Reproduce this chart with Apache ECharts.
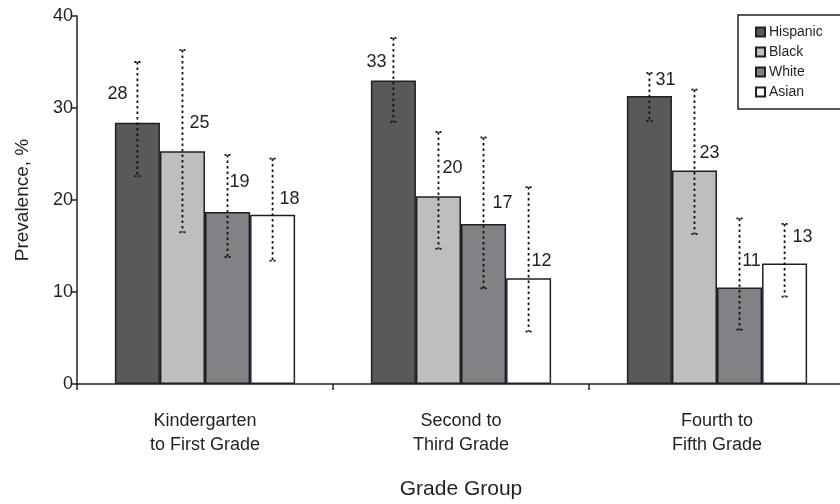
<!DOCTYPE html>
<html>
<head>
<meta charset="utf-8">
<script src="https://cdn.jsdelivr.net/npm/echarts@6/dist/echarts.min.js"></script>
<style>
html,body{margin:0;padding:0;background:#fff;}
#chart{width:840px;height:504px;}
</style>
</head>
<body>
<div id="chart"></div>
<script>
// ---- data ----
const categories = ['Kindergarten\nto First Grade', 'Second to\nThird Grade', 'Fourth to\nFifth Grade'];
const seriesNames = ['Hispanic', 'Black', 'White', 'Asian'];
const hispanic = [28.4, 33.0, 31.3];
const black = [25.3, 20.4, 23.2];
const white = [18.7, 17.4, 10.5];
const asian = [18.4, 11.5, 13.1];
const hispanicLow = [22.6, 28.5, 28.6];
const hispanicHigh = [35.0, 37.6, 33.8];
const blackLow = [16.5, 14.7, 16.3];
const blackHigh = [36.3, 27.4, 32.0];
const whiteLow = [13.8, 10.4, 5.9];
const whiteHigh = [24.9, 26.8, 18.0];
const asianLow = [13.4, 5.7, 9.5];
const asianHigh = [24.5, 21.4, 17.4];
const yTicks = [0, 10, 20, 30, 40];

// ---- layout / style ----
const FONT = '"Liberation Sans", Arial, sans-serif';
const INK = '#231f20';
const colors = ['#58595b', '#bcbec0', '#808285', '#ffffff'];
const values = [hispanic, black, white, asian];
const lows = [hispanicLow, blackLow, whiteLow, asianLow];
const highs = [hispanicHigh, blackHigh, whiteHigh, asianHigh];
// label offsets (px) relative to error-bar x and bar top, per series per group
const labelDx = [[-20, -17, 16], [17, 14, 15], [12, 19, 12], [17, 13, 18]];
const labelDy = [[-29, -18, -16], [-28, -28, -18], [-30, -21, -26], [-16, -17, -26]];
const CAT_GAP = 0.296;

const chart = echarts.init(document.getElementById('chart'));

const barSeries = seriesNames.map((name, i) => ({
  name: name,
  type: 'bar',
  data: values[i],
  barGap: '0%',
  barCategoryGap: (CAT_GAP * 100) + '%',
  itemStyle: { color: colors[i], borderColor: INK, borderWidth: 1.5 },
  silent: true,
  z: 2
}));

const errSeries = seriesNames.map((name, i) => ({
  type: 'custom',
  name: name + ' CI',
  data: values[i].map((v, g) => [g, lows[i][g], highs[i][g], v]),
  encode: { x: 0, y: [1, 2] },
  z: 5,
  silent: true,
  renderItem: function (params, api) {
    const g = api.value(0);
    const catW = api.size([1, 0])[0];
    const barW = catW * (1 - CAT_GAP) / 4;
    const center = api.coord([g, 0])[0];
    const x = center + (i - 1.5) * barW;
    const yLo = api.coord([g, api.value(1)])[1];
    const yHi = api.coord([g, api.value(2)])[1];
    const yTop = api.coord([g, api.value(3)])[1];
    const lineStyle = { stroke: '#111', lineWidth: 1.8, lineDash: [2.5, 3] };
    const capStyle = { stroke: '#111', lineWidth: 1.8, lineDash: [2, 2] };
    return {
      type: 'group',
      children: [
        { type: 'line', shape: { x1: x, y1: yHi, x2: x, y2: yLo }, style: lineStyle },
        { type: 'line', shape: { x1: x - 3, y1: yHi, x2: x + 4, y2: yHi }, style: capStyle },
        { type: 'line', shape: { x1: x - 3, y1: yLo, x2: x + 4, y2: yLo }, style: capStyle },
        { type: 'text', style: {
            text: String(Math.round(api.value(3))),
            x: x + labelDx[i][g], y: yTop + labelDy[i][g],
            align: 'center', verticalAlign: 'middle',
            fill: INK, font: '18px ' + FONT
          } }
      ]
    };
  }
}));

chart.setOption({
  animation: false,
  backgroundColor: '#fff',
  textStyle: { fontFamily: FONT, color: INK },
  legend: {
    data: seriesNames,
    orient: 'vertical',
    left: 738,
    top: 15,
    padding: [10, 22, 10, 17],
    itemGap: 6,
    itemWidth: 9,
    itemHeight: 9,
    icon: 'rect',
    borderColor: INK,
    borderWidth: 1.5,
    backgroundColor: '#fff',
    textStyle: { fontSize: 14, color: INK, fontFamily: FONT, padding: [0, 0, 0, -1] }
  },
  grid: { left: 77, right: -5, top: 16, bottom: 120, containLabel: false, outerBoundsMode: 'none' },
  xAxis: {
    type: 'category',
    data: categories,
    name: 'Grade Group',
    nameLocation: 'middle',
    nameGap: 95,
    nameTextStyle: { fontSize: 21, color: INK, fontFamily: FONT },
    axisLine: { lineStyle: { color: INK, width: 1.5 } },
    axisTick: { show: true, alignWithLabel: false, length: 6, lineStyle: { color: INK, width: 1.5 } },
    axisLabel: { fontSize: 18, color: INK, lineHeight: 24, margin: 25, fontFamily: FONT }
  },
  yAxis: {
    type: 'value',
    min: 0,
    max: 40,
    interval: 10,
    name: 'Prevalence, %',
    nameLocation: 'middle',
    nameGap: 45,
    nameTextStyle: { fontSize: 19, color: INK, fontFamily: FONT },
    axisLine: { show: true, lineStyle: { color: INK, width: 1.5 } },
    axisTick: { show: true, length: 5, lineStyle: { color: INK, width: 1.5 } },
    axisLabel: { fontSize: 18, color: INK, margin: 4, fontFamily: FONT,
      formatter: v => (yTicks.indexOf(v) >= 0 ? String(v) : '') },
    splitLine: { show: false }
  },
  series: barSeries.concat(errSeries)
});
</script>
</body>
</html>
